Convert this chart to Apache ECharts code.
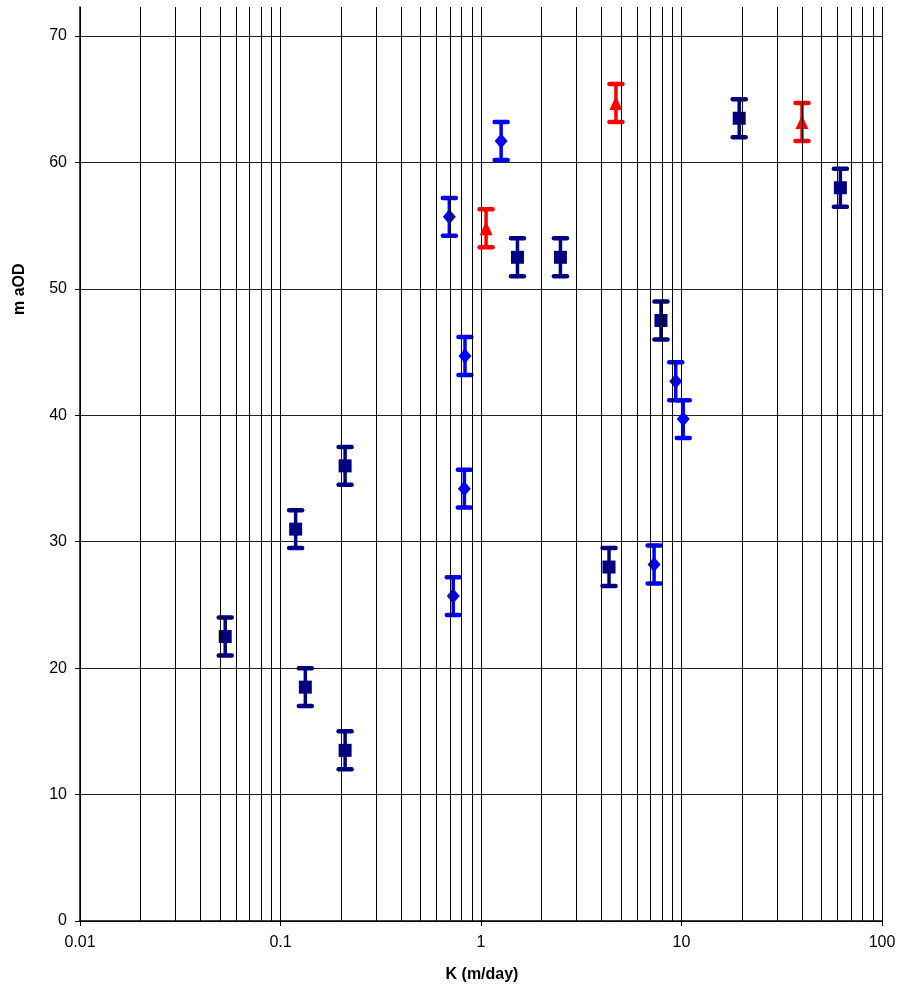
<!DOCTYPE html>
<html><head><meta charset="utf-8">
<script src="https://cdn.jsdelivr.net/npm/echarts@6/dist/echarts.min.js"></script>
<style>html,body{margin:0;padding:0;background:#fff}#c{width:904px;height:992px}</style>
</head><body><div id="c"></div>
<script>
// K (m/day) and level (m aOD) for each series, with error half-widths
const darkK     = [0.053, 0.119, 0.21, 0.133, 0.21, 1.52, 2.49, 4.35, 7.9, 19.4, 62];
const darkLevel = [22.5, 31.0, 36.0, 18.5, 13.5, 52.5, 52.5, 28.0, 47.5, 63.5, 58.0];
const darkErr   = [1.5, 1.5, 1.5, 1.5, 1.5, 1.5, 1.5, 1.5, 1.5, 1.5, 1.5];

const blueK     = [0.695, 1.26, 0.826, 0.727, 0.832, 9.36, 10.2, 7.3];
const blueLevel = [55.7, 61.7, 34.2, 25.7, 44.7, 42.7, 39.7, 28.2];
const blueErr   = [1.5, 1.5, 1.5, 1.5, 1.5, 1.5, 1.5, 1.5];

const redK      = [1.06, 4.71, 39.9];
const redLevel  = [54.8, 64.7, 63.2];
const redErr    = [1.5, 1.5, 1.5];

const xTickLabels = ['0.01', '0.1', '1', '10', '100'];
const yTickLabels = ['0', '10', '20', '30', '40', '50', '60', '70'];

const FONT = 'Liberation Sans, Arial, sans-serif';

function build(k, v, e) { return k.map((x, i) => [x, v[i], v[i] - e[i], v[i] + e[i]]); }

// minor log gridlines (2..9 in each decade)
const minorGrid = [];
for (let d = -2; d < 2; d++) for (let m = 2; m <= 9; m++) minorGrid.push({ xAxis: Number((m * Math.pow(10, d)).toPrecision(3)) });

function errorSeries(data, color) {
  return {
    type: 'custom', data: data, z: 3, silent: true, animation: false,
    encode: { x: 0, y: [1, 2, 3] },
    renderItem: function (params, api) {
      const x = api.value(0);
      const lo = api.coord([x, api.value(2)]);
      const hi = api.coord([x, api.value(3)]);
      const w = 6.5;
      const stem = { stroke: color, lineWidth: 3.5, lineCap: 'round' };
      const cap = { stroke: color, lineWidth: 4.5, lineCap: 'round' };
      return {
        type: 'group', children: [
          { type: 'line', shape: { x1: lo[0], y1: lo[1], x2: hi[0], y2: hi[1] }, style: stem },
          { type: 'line', shape: { x1: lo[0] - w, y1: lo[1], x2: lo[0] + w, y2: lo[1] }, style: cap },
          { type: 'line', shape: { x1: hi[0] - w, y1: hi[1], x2: hi[0] + w, y2: hi[1] }, style: cap }
        ]
      };
    }
  };
}

function pointSeries(data, color, symbol, size) {
  return {
    type: 'scatter', data: data.map(d => [d[0], d[1]]), z: 4, symbol: symbol, symbolSize: size,
    itemStyle: { color: color, opacity: 1 }, animation: false
  };
}

const darkData = build(darkK, darkLevel, darkErr);
const blueData = build(blueK, blueLevel, blueErr);
const redData = build(redK, redLevel, redErr);

const chart = echarts.init(document.getElementById('c'), null, { renderer: 'canvas' });
chart.setOption({
  animation: false,
  backgroundColor: '#fff',
  grid: { left: 80, right: 22, top: 7, bottom: 71, containLabel: false },
  xAxis: {
    type: 'log', logBase: 10, min: 0.01, max: 100,
    axisLine: { show: true, onZero: false, lineStyle: { color: '#000', width: 1.5 } },
    axisTick: { show: true, inside: false, length: 5, lineStyle: { color: '#000' } },
    axisLabel: {
      color: '#000', fontSize: 16, fontFamily: FONT, margin: 14,
      formatter: function (v) {
        const idx = Math.round(Math.log10(v)) + 2;
        return xTickLabels[idx] !== undefined ? xTickLabels[idx] : '';
      }
    },
    splitLine: { show: true, lineStyle: { color: '#000', width: 1 } }
  },
  yAxis: {
    type: 'value', min: 0, max: 72.3, interval: 10,
    axisLine: { show: true, lineStyle: { color: '#000', width: 1.5 } },
    axisTick: { show: true, inside: false, length: 5, lineStyle: { color: '#000' } },
    axisLabel: {
      color: '#000', fontSize: 16, fontFamily: FONT, margin: 13, showMaxLabel: false,
      formatter: function (v) {
        const idx = Math.round(v / 10);
        return (Math.abs(v - idx * 10) < 1e-6 && yTickLabels[idx] !== undefined) ? yTickLabels[idx] : '';
      }
    },
    splitLine: { show: true, showMaxLine: false, lineStyle: { color: '#222', width: 1 } }
  },
  graphic: [
    { type: 'text', rotation: Math.PI / 2, x: 12, y: 315, style: { text: 'm aOD', font: 'bold 16px ' + FONT, fill: '#000' } },
    { type: 'text', style: { text: 'K (m/day)', font: 'bold 16px ' + FONT, fill: '#000', textAlign: 'center', textVerticalAlign: 'middle' }, x: 482, y: 975 }
  ],
  series: [
    {
      type: 'scatter', data: [], z: 1, silent: true,
      markLine: {
        silent: true, symbol: ['none', 'none'], animation: false, label: { show: false },
        lineStyle: { color: '#000', width: 1, type: 'solid' },
        emphasis: { disabled: true },
        data: minorGrid
      }
    },
    errorSeries(darkData, '#000080'),
    errorSeries(blueData, '#0000FF'),
    errorSeries(redData, '#FF0000'),
    pointSeries(darkData, '#000080', 'rect', 13),
    pointSeries(blueData, '#0000FF', 'diamond', [13, 15]),
    pointSeries(redData, '#FF0000', 'triangle', [13, 14])
  ]
});
</script>
</body></html>
